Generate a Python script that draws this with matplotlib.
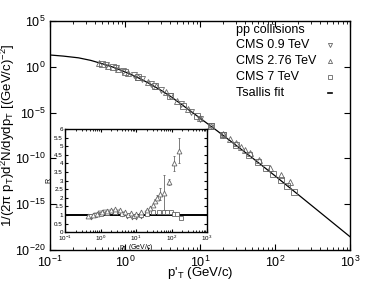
import numpy as np
import matplotlib
matplotlib.use("Agg")
import matplotlib.pyplot as plt

plt.rcParams['font.family'] = ['Liberation Sans', 'DejaVu Sans']
plt.rcParams['mathtext.fontset'] = 'custom'
plt.rcParams['mathtext.rm'] = 'Liberation Sans'
plt.rcParams['mathtext.it'] = 'Liberation Sans:italic'
plt.rcParams['mathtext.default'] = 'regular'

# Tsallis fit curve (pT, log10 yield)
fit_pt = [0.1, 0.15, 0.24, 0.35, 0.5, 0.7, 1.0, 1.5, 2.0, 3.0, 4.0, 6.0,
          10, 17, 25, 50, 100, 200, 400, 1000]
fit_logy = [1.29, 1.17, 0.98, 0.70, 0.33, -0.05, -0.55, -1.20, -1.72, -2.55,
            -3.20, -4.25, -5.6, -7.0, -8.05, -9.95, -11.9, -13.9, -15.9, -18.55]

# CMS 0.9 TeV
pt09 = [0.55, 0.75, 0.95, 1.3, 1.7, 2.2, 3.0, 4.0, 5.5, 7.5, 10, 14, 20]
logy09 = [0.17, -0.15, -0.44, -0.90, -1.34, -1.83, -2.48, -3.17, -4.04,
          -4.90, -5.67, -6.51, -7.40]
ratio09 = [0.9, 1.0, 1.1, 1.18, 1.2, 1.2, 1.18, 1.08, 0.95, 0.88, 0.86, 0.95, 1.1]

# CMS 2.76 TeV
pt276 = [0.45, 0.6, 0.8, 1.1, 1.5, 2.0, 2.6, 3.5, 5, 7, 10, 14, 20, 25, 30,
         35, 40, 46, 61, 86, 120, 158]
logy276 = [0.41, 0.13, -0.21, -0.64, -1.11, -1.61, -2.14, -2.79, -3.71, -4.62,
           -5.57, -6.43, -7.33, -7.90, -8.36, -8.72, -9.04, -9.38, -10.15,
           -11.01, -11.82, -12.54]
ratio276 = [0.93, 1.0, 1.07, 1.15, 1.22, 1.3, 1.33, 1.28, 1.18, 1.1, 1.08, 1.15,
            1.3, 1.4, 1.55, 1.8, 2.0, 2.2, 2.3, 2.9, 4.0, 4.75]
err276 = [0, 0, 0, 0, 0, 0, 0, 0, 0, 0, 0, 0, 0, 0, 0, 0.1, 0.15, 0.35, 1.0,
          0.18, 0.42, 0.72]

# CMS 7 TeV
pt7 = [0.5, 0.7, 1.0, 1.5, 2.5, 4, 6, 9, 14, 20, 30, 45, 60, 75, 95, 120, 145, 180]
logy7 = [0.30, -0.05, -0.52, -1.15, -2.12, -3.17, -4.26, -5.36, -6.50, -7.42,
         -8.49, -9.58, -10.38, -11.02, -11.70, -12.40, -12.96, -13.66]
ratio7 = [0.93, 1.0, 1.07, 1.12, 1.15, 1.08, 0.97, 0.92, 0.97, 1.05, 1.15, 1.2,
          1.2, 1.17, 1.15, 1.05, 1.03, 0.85]

gray = '#666666'
fig = plt.figure(figsize=(3.87, 2.82), dpi=100)
ax = fig.add_axes([0.1292, 0.1135, 0.7752, 0.812])

ax.plot(fit_pt, 10 ** np.array(fit_logy), color='black', lw=0.9, zorder=3)
mk = dict(ls='none', mfc='none', mec=gray, ms=4, mew=0.6, zorder=4)
ax.plot(pt09, 10 ** np.array(logy09), marker='v', **mk)
ax.plot(pt276, 10 ** np.array(logy276), marker='^', **mk)
ax.plot(pt7, 10 ** np.array(logy7), marker='s', **mk)

ax.set_xscale('log')
ax.set_yscale('log')
ax.set_xlim(0.1, 1000)
ax.set_ylim(1e-20, 1e5)
ax.set_yticks([1e5, 1e0, 1e-5, 1e-10, 1e-15, 1e-20])
ax.yaxis.set_minor_locator(matplotlib.ticker.NullLocator())
ax.tick_params(which='both', direction='in', top=True, right=True, labelsize=9)
ax.tick_params(which='major', length=4)
ax.tick_params(which='minor', length=2)
for s in ax.spines.values():
    s.set_linewidth(1.0)
ax.set_xlabel(r"p$'_{T}$ (GeV/c)", fontsize=9.5)
ax.xaxis.set_label_coords(0.5, -0.064)
ax.set_ylabel(r"1/(2$\pi$ p$_T$)d$^2$N/dydp$_T$ [(GeV/c)$^{-2}$]", fontsize=9.5)
ax.yaxis.set_label_coords(-0.11, 0.5)

# legend, gnuplot style
lx, mx = 0.62, 0.933
rows = [0.961, 0.895, 0.825, 0.755, 0.686]
labels = ['pp collisions', 'CMS 0.9 TeV', 'CMS 2.76 TeV', 'CMS 7 TeV', 'Tsallis fit']
for r, t in zip(rows, labels):
    ax.text(lx, r, t, transform=ax.transAxes, fontsize=9, va='center', ha='left')
lmk = dict(ls='none', mfc='none', mec=gray, ms=3, mew=0.6, transform=ax.transAxes,
           clip_on=False)
ax.plot([mx], [rows[1]], marker='v', **lmk)
ax.plot([mx], [rows[2]], marker='^', **lmk)
ax.plot([mx], [rows[3]], marker='s', **lmk)
ax.plot([mx - 0.008, mx + 0.008], [rows[4], rows[4]], color='black', lw=1.2,
        transform=ax.transAxes)

# inset: data / fit
ins = fig.add_axes([0.168, 0.177, 0.367, 0.365])
ins.axhline(1.0, color='black', lw=1.4, zorder=2)
imk = dict(ls='none', mfc='white', mec=gray, ms=3.5, mew=0.6, zorder=3)
ins.plot(pt09, ratio09, marker='v', **imk)
ins.errorbar(pt276, ratio276, yerr=err276, marker='^', ecolor=gray, elinewidth=0.6,
             capsize=1, capthick=0.6, **imk)
ins.plot(pt7, ratio7, marker='s', **imk)
ins.set_xscale('log')
ins.set_xlim(0.1, 1000)
ins.set_ylim(0, 6)
ins.set_yticks(np.arange(0, 6.01, 0.5))
ins.set_yticklabels(['0', '0.5', '1', '1.5', '2', '2.5', '3', '3.5', '4', '4.5',
                     '5', '5.5', '6'])
ins.tick_params(which='both', direction='in', top=True, right=True, labelsize=4.5,
                pad=1.5)
ins.tick_params(which='major', length=2.5)
ins.tick_params(which='minor', length=1.2)
ins.set_xlabel(r"p$_T$ (GeV/c)", fontsize=5, labelpad=-1)
ins.set_ylabel("R", fontsize=5, labelpad=1)
for s in ins.spines.values():
    s.set_linewidth(1.0)

fig.savefig('out.png', dpi=100)
